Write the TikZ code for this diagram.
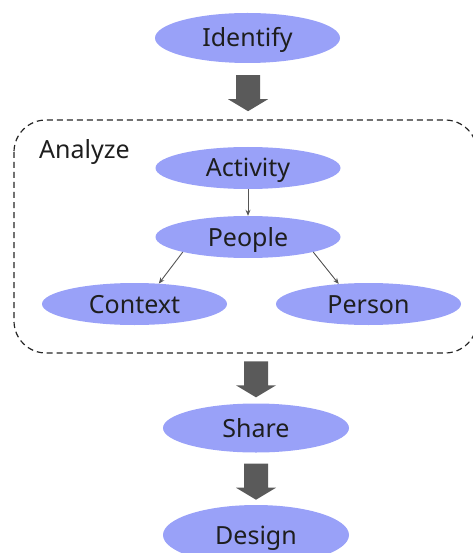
\documentclass[tikz,border=0pt]{standalone}
\usepackage{fontspec}
\setmainfont{Noto Sans}
\usetikzlibrary{shapes.geometric,arrows.meta,calc}
\definecolor{stagefill}{HTML}{99A1F8}
\definecolor{inktext}{HTML}{1E1E1E}
\definecolor{blockgray}{HTML}{5A5A5A}
\definecolor{linkgray}{HTML}{555555}
\tikzset{
  labelfont/.style={font=\fontsize{25}{29}\selectfont},
  stage/.style={ellipse, fill=stagefill, draw=none, inner sep=0pt,
    text=inktext, labelfont,
    text height=18pt, text depth=0pt,
    minimum width=185pt, minimum height=42pt},
  group/.style={draw=black!85, line width=1.2pt, dash pattern=on 6pt off 4pt,
    rounded corners=32pt},
  link/.style={draw=linkgray, line width=0.9pt, -{Stealth[length=6pt,width=5pt]}},
  blockarrow/.style={fill=blockgray}
}
% thick down-pointing arrow starting at the top centre coordinate #1
\newcommand{\blockarrow}[1]{%
  \fill[blockarrow] ([xshift=-12pt]#1) -- ++(24,0) -- ++(0,24) -- ++(8,0)
    -- ++(-20,12) -- ++(-20,-12) -- ++(8,0) -- cycle;}
\begin{document}
\begin{tikzpicture}[x=1pt,y=-1pt]
  \useasboundingbox (0,0) rectangle (472,553);

  % group frame
  \draw[group] (14,120) rectangle (477,353);
  \node[anchor=base west, text=inktext, labelfont,
        inner sep=0pt] (analyze) at (39,159) {Analyze};

  % stages
  \node[stage, minimum height=50pt] (identify) at (247.5,38) {Identify};
  \node[stage] (activity) at (248,168) {Activity};
  \node[stage] (people) at (248,237) {People};
  \node[stage] (context) at (134.5,304) {Context};
  \node[stage] (person) at (368.5,304) {Person};
  \node[stage, minimum width=186pt, minimum height=49pt] (share) at (256,428) {Share};
  \node[stage, minimum width=186pt, minimum height=60pt] (design) at (256,535) {Design};

  % links inside the group
  \draw[link] (activity.south) -- (people.north);
  \draw[link] (people.193.6) -- (context.40);
  \draw[link] (people.-13) -- (person.146.7);

  % thick arrows between the phases
  \coordinate (a1) at ($(identify.south)+(0.5,12)$);
  \coordinate (a2) at ($(share.north)+(0,-42)$);
  \coordinate (a3) at ($(share.south)+(0,11)$);
  \blockarrow{a1}
  \blockarrow{a2}
  \blockarrow{a3}
\end{tikzpicture}
\end{document}
